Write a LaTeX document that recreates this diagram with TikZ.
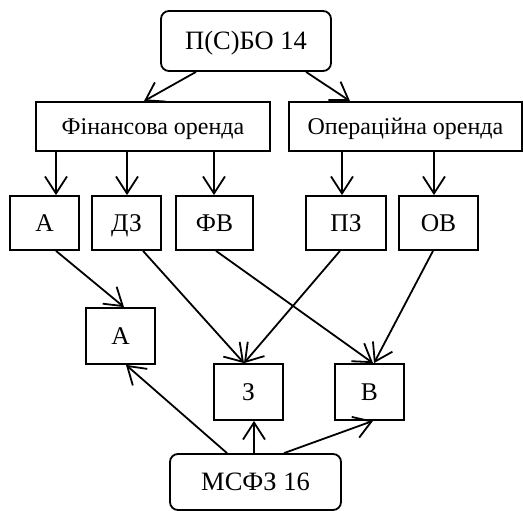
\documentclass[tikz,border=0pt]{standalone}
\usepackage{fontspec}
\setmainfont{Liberation Serif}
\usetikzlibrary{shapes,arrows.meta}

\tikzset{
    box/.style={draw, line width=1.8pt, inner sep=0pt, text height=16pt, text depth=0pt, font=\fontsize{24}{28}\selectfont},
    sbox/.style={box, minimum height=54pt, text height=17pt, font=\fontsize{25.5}{30}\selectfont},
    rbox/.style={box, rounded corners=8pt, text height=17.5pt, font=\fontsize{26.5}{31}\selectfont},
    arr/.style={line width=1.8pt, -{Straight Barb[length=17pt, width=22pt, line width=1.8pt]}}
}

\begin{document}
\begin{tikzpicture}[x=1pt, y=-1pt]
    \useasboundingbox (0,0) rectangle (523,511);
    % standards
    \node[rbox, minimum width=170pt, minimum height=60pt] (psbo) at (246,41) {П(С)БО 14};
    \node[rbox, minimum width=171pt, minimum height=56pt] (msfz) at (255.5,482) {МСФЗ 16};
    % types of lease
    \node[box, minimum width=234pt, minimum height=49pt] (fin) at (153,126.5) {Фінансова оренда};
    \node[box, minimum width=233pt, minimum height=49pt] (oper) at (405.5,126.5) {Операційна оренда};
    % items
    \node[sbox, minimum width=69pt] (a) at (44.5,223) {А};
    \node[sbox, minimum width=69pt] (dz) at (126.5,223) {ДЗ};
    \node[sbox, minimum width=77pt] (fv) at (214.5,223) {ФВ};
    \node[sbox, minimum width=80pt] (pz) at (346,223) {ПЗ};
    \node[sbox, minimum width=79pt] (ov) at (438.5,223) {ОВ};
    \node[sbox, minimum width=69pt, minimum height=56pt] (a2) at (120.5,336) {А};
    \node[sbox, minimum width=69pt, minimum height=56pt] (z) at (248.5,392) {З};
    \node[sbox, minimum width=69pt, minimum height=56pt] (v) at (369.5,392) {В};
    % connectors
    \draw[arr] ([xshift=-50pt]psbo.south) -- ([xshift=-9pt]fin.north);
    \draw[arr] ([xshift=60pt]psbo.south) -- ([xshift=-55.5pt]oper.north);
    \draw[arr] (fin.south -| 56,0) -- (a.north -| 56,0);
    \draw[arr] (fin.south -| 127,0) -- (dz.north -| 127,0);
    \draw[arr] (fin.south -| 214,0) -- (fv.north -| 214,0);
    \draw[arr] (oper.south -| 342,0) -- (pz.north -| 342,0);
    \draw[arr] (oper.south -| 434,0) -- (ov.north -| 434,0);
    \draw[arr] ([xshift=11.5pt]a.south) -- ([xshift=3.5pt]a2.north);
    \draw[arr] ([xshift=16.5pt]dz.south) -- ([xshift=-4.5pt]z.north);
    \draw[arr] ([xshift=1.5pt]fv.south) -- ([xshift=3.5pt]v.north);
    \draw[arr] ([xshift=-6pt]pz.south) -- ([xshift=-4.5pt]z.north);
    \draw[arr] ([xshift=-5.5pt]ov.south) -- ([xshift=4.5pt]v.north);
    \draw[arr] ([xshift=-28.5pt]msfz.north) -- ([xshift=5.5pt]a2.south);
    \draw[arr] (msfz.north -| 254,0) -- (z.south -| 254,0);
    \draw[arr] ([xshift=28.5pt]msfz.north) -- ([xshift=3.5pt]v.south);
\end{tikzpicture}
\end{document}
